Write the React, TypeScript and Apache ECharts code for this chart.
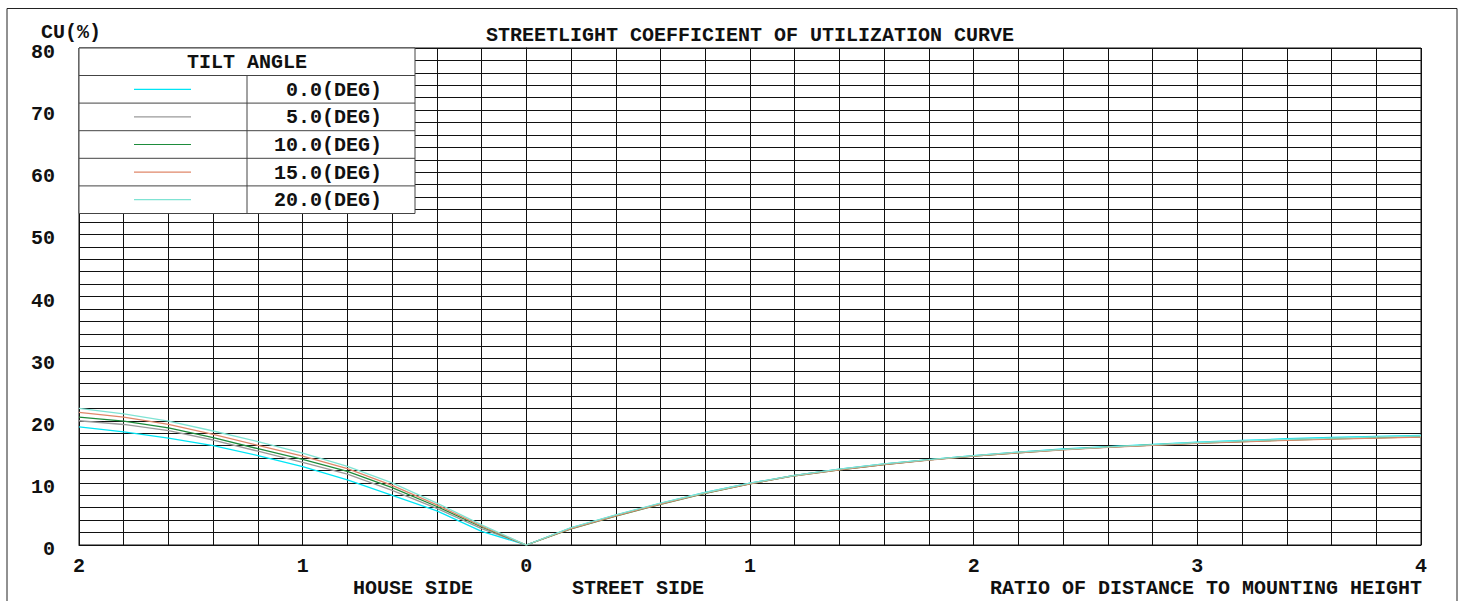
import React, { useEffect, useRef } from "react";
import * as echarts from "echarts";

// ---- data ----
const xValues = [
  -2.0, -1.8, -1.6, -1.4, -1.2, -1.0, -0.8, -0.6, -0.4, -0.2,
  0, 0.2, 0.4, 0.6, 0.8, 1.0, 1.2, 1.4, 1.6, 1.8, 2.0,
  2.2, 2.4, 2.6, 2.8, 3.0, 3.2, 3.4, 3.6, 3.8, 4.0,
];
const tiltLabels = ["0.0(DEG)", "5.0(DEG)", "10.0(DEG)", "15.0(DEG)", "20.0(DEG)"];
const tiltColors = ["#00E5F5", "#9A9A9A", "#1E8C3C", "#E0876A", "#7FE3D3"];
const cu0 = [
  19.0, 18.2, 17.2, 16.0, 14.4, 12.6, 10.5, 8.0, 5.5, 2.2,
  0, 2.75, 4.8, 6.7, 8.45, 9.95, 11.2, 12.2, 13.05, 13.75, 14.4,
  14.95, 15.45, 15.85, 16.2, 16.55, 16.85, 17.1, 17.3, 17.5, 17.65,
];
const cu5 = [
  20.0, 19.4, 18.4, 16.9, 15.1, 13.3, 11.4, 8.8, 5.9, 2.65,
  0, 2.7, 4.75, 6.65, 8.4, 9.9, 11.2, 12.15, 13.0, 13.7, 14.35,
  14.9, 15.4, 15.75, 16.1, 16.45, 16.7, 16.95, 17.15, 17.3, 17.45,
];
const cu10 = [
  20.6, 19.95, 18.85, 17.3, 15.5, 13.8, 11.85, 9.25, 6.2, 2.9,
  0, 2.6, 4.65, 6.55, 8.3, 9.85, 11.15, 12.1, 12.95, 13.7, 14.3,
  14.85, 15.35, 15.75, 16.1, 16.4, 16.65, 16.9, 17.1, 17.25, 17.4,
];
const cu15 = [
  21.35, 20.6, 19.4, 17.8, 16.05, 14.3, 12.3, 9.6, 6.45, 3.05,
  0, 2.65, 4.7, 6.6, 8.35, 9.85, 11.15, 12.1, 12.95, 13.65, 14.3,
  14.85, 15.3, 15.7, 16.05, 16.35, 16.6, 16.85, 17.05, 17.2, 17.35,
];
const cu20 = [
  22.0, 21.1, 19.95, 18.35, 16.65, 14.8, 12.65, 10.0, 6.75, 3.25,
  0, 2.8, 4.85, 6.75, 8.45, 9.95, 11.2, 12.2, 13.05, 13.75, 14.4,
  14.95, 15.4, 15.8, 16.15, 16.5, 16.75, 17.0, 17.2, 17.4, 17.55,
];
const seriesValues = [cu0, cu5, cu10, cu15, cu20];

const FONT = "'Liberation Mono', 'Courier New', monospace";
const TXT = "#111";

export default function App() {
  const ref = useRef<HTMLDivElement>(null);
  useEffect(() => {
    if (!ref.current) return;
    const chart = echarts.init(ref.current, undefined, { renderer: "svg" });

    const font = `bold 20px ${FONT}`;
    // legend table geometry
    const tL = 79, tR = 415, tT = 48, hdr = 27.5, rowH = 27.6, colX = 247;
    const tB = tT + hdr + rowH * tiltLabels.length;
    const legendEls: any[] = [
      {
        type: "rect", z: 100,
        shape: { x: tL, y: tT, width: tR - tL, height: tB - tT },
        style: { fill: "#fff", stroke: "#444", lineWidth: 1 },
      },
      {
        type: "text", z: 101, x: colX, y: tT + hdr / 2 + 1,
        style: { text: "TILT ANGLE", font, fill: TXT, align: "center", verticalAlign: "middle" },
      },
      {
        type: "line", z: 101,
        shape: { x1: colX, y1: tT + hdr, x2: colX, y2: tB },
        style: { stroke: "#444", lineWidth: 1 },
      },
    ];
    tiltLabels.forEach((lab, i) => {
      const top = tT + hdr + rowH * i;
      legendEls.push({
        type: "line", z: 101,
        shape: { x1: tL, y1: top, x2: tR, y2: top },
        style: { stroke: "#444", lineWidth: 1 },
      });
      legendEls.push({
        type: "line", z: 101,
        shape: { x1: 134, y1: top + rowH / 2, x2: 191, y2: top + rowH / 2 },
        style: { stroke: tiltColors[i], lineWidth: 1.2 },
      });
      legendEls.push({
        type: "text", z: 101, x: 382, y: top + rowH / 2 + 1,
        style: { text: lab, font, fill: TXT, align: "right", verticalAlign: "middle" },
      });
    });

    const bottomText = (text: string, x: number, align: string) => ({
      type: "text", z: 101, x, y: 588,
      style: { text, font, fill: TXT, align, verticalAlign: "middle", lineHeight: 14 },
    });

    const option: any = {
      animation: false,
      backgroundColor: "#fff",
      grid: {
        left: 79, right: 42, top: 48, bottom: 56,
        show: true, borderColor: "#111", borderWidth: 1,
        containLabel: false, outerBoundsMode: "none",
      },
      xAxis: {
        type: "value", min: -2, max: 4, interval: 0.2,
        axisLine: { show: true, lineStyle: { color: "#111", width: 1 } },
        axisTick: { show: false },
        splitLine: { show: true, lineStyle: { color: "#111", width: 1 } },
        axisLabel: {
          margin: 16, verticalAlign: "top", lineHeight: 10,
          fontFamily: FONT, fontWeight: "bold", fontSize: 20, color: TXT,
          formatter: (v: number) =>
            Math.abs(v - Math.round(v)) < 1e-6 ? String(Math.abs(Math.round(v))) : "",
        },
      },
      yAxis: {
        type: "value", min: 0, max: 80, interval: 2,
        axisLine: { show: true, lineStyle: { color: "#111", width: 1 } },
        axisTick: { show: false },
        splitLine: { show: true, lineStyle: { color: "#111", width: 1 } },
        axisLabel: {
          margin: 24, verticalAlign: "top", lineHeight: 9,
          fontFamily: FONT, fontWeight: "bold", fontSize: 20, color: TXT,
          formatter: (v: number) => (Math.round(v) % 10 === 0 ? String(Math.round(v)) : ""),
        },
      },
      series: seriesValues.map((vals, i) => ({
        type: "line",
        name: tiltLabels[i],
        data: vals.map((y, k) => [xValues[k], y]),
        showSymbol: false,
        symbol: "none",
        lineStyle: { color: tiltColors[i], width: 1.3 },
        itemStyle: { color: tiltColors[i] },
        z: 3 + i,
      })),
      graphic: [
        {
          type: "rect", z: 90,
          shape: { x: 7, y: 8.5, width: 1450, height: 700 },
          style: { fill: "none", stroke: "#222", lineWidth: 1 },
        },
        {
          type: "text", z: 101, x: 750, y: 35,
          style: { text: "STREETLIGHT COEFFICIENT OF UTILIZATION CURVE", font, fill: TXT, align: "center", verticalAlign: "middle" },
        },
        {
          type: "text", z: 101, x: 41, y: 32,
          style: { text: "CU(%)", font, fill: TXT, align: "left", verticalAlign: "middle" },
        },
        bottomText("HOUSE SIDE", 353, "left"),
        bottomText("STREET SIDE", 572, "left"),
        bottomText("RATIO OF DISTANCE TO MOUNTING HEIGHT", 1422, "right"),
        ...legendEls,
      ],
    };
    chart.setOption(option);
    return () => chart.dispose();
  }, []);

  return (
    <div
      ref={ref}
      style={{ position: "fixed", left: 0, top: 0, width: 1463, height: 601, background: "#fff" }}
    />
  );
}
